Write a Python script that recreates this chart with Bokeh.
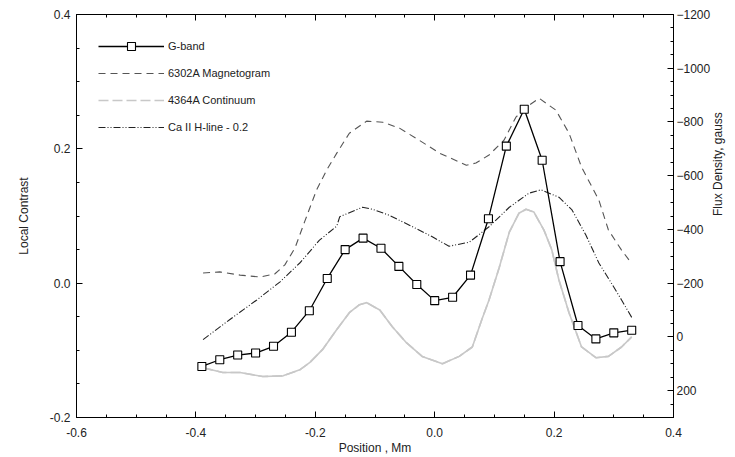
import math
from bokeh.plotting import figure
from bokeh.models import (Range1d, LinearAxis, FixedTicker, NumeralTickFormatter,
                          Legend, LegendItem)
from bokeh.embed import file_html
from bokeh.resources import INLINE

# ---- data ----
gband_x = [-0.39, -0.36, -0.33, -0.30, -0.27, -0.24, -0.21, -0.18, -0.15, -0.12,
           -0.09, -0.06, -0.03, 0.00, 0.03, 0.06, 0.09, 0.12, 0.15, 0.18,
           0.21, 0.24, 0.27, 0.30, 0.33]
gband_y = [-0.124, -0.114, -0.107, -0.104, -0.094, -0.073, -0.041, 0.007, 0.050, 0.067,
           0.052, 0.025, -0.002, -0.026, -0.021, 0.012, 0.096, 0.204, 0.259, 0.183,
           0.032, -0.063, -0.083, -0.074, -0.070]

mag_x = [-0.388, -0.360, -0.326, -0.293, -0.268, -0.251, -0.234, -0.218, -0.198, -0.181,
         -0.164, -0.143, -0.114, -0.087, -0.059, -0.026, 0.008, 0.053, 0.069, 0.091,
         0.116, 0.136, 0.158, 0.175, 0.203, 0.225, 0.246, 0.275, 0.291, 0.313, 0.328]
mag_gauss = [-238, -242, -230, -223, -234, -268, -331, -428, -546, -621,
             -684, -758, -803, -799, -777, -732, -684, -639, -647, -677,
             -732, -818, -862, -888, -844, -758, -632, -509, -398, -323, -279]

cont_x = [-0.388, -0.355, -0.326, -0.288, -0.254, -0.226, -0.209, -0.188, -0.164, -0.143,
          -0.126, -0.114, -0.092, -0.071, -0.047, -0.021, 0.013, 0.041, 0.063, 0.079,
          0.091, 0.108, 0.125, 0.141, 0.153, 0.166, 0.183, 0.196, 0.208, 0.225,
          0.246, 0.270, 0.291, 0.313, 0.330]
cont_y = [-0.126, -0.133, -0.133, -0.139, -0.138, -0.129, -0.118, -0.099, -0.069, -0.044,
          -0.032, -0.029, -0.040, -0.065, -0.089, -0.109, -0.120, -0.109, -0.095, -0.054,
          -0.025, 0.023, 0.076, 0.104, 0.110, 0.106, 0.079, 0.050, 0.005, -0.044,
          -0.095, -0.111, -0.109, -0.095, -0.080]

ca_x = [-0.388, -0.343, -0.298, -0.259, -0.226, -0.193, -0.164, -0.159, -0.121, -0.104,
        -0.076, -0.037, -0.004, 0.024, 0.058, 0.091, 0.125, 0.158, 0.178, 0.208,
        0.230, 0.253, 0.275, 0.296, 0.313, 0.330]
ca_y = [-0.084, -0.054, -0.025, 0.002, 0.030, 0.064, 0.085, 0.099, 0.113, 0.110,
        0.101, 0.084, 0.069, 0.055, 0.061, 0.084, 0.113, 0.134, 0.139, 0.128,
        0.109, 0.072, 0.030, 0.000, -0.025, -0.051]

x_ticks = [-0.6, -0.4, -0.2, 0.0, 0.2, 0.4]
y_ticks = [-0.2, 0.0, 0.2, 0.4]
flux_ticks = [-1200, -1000, -800, -600, -400, -200, 0, 200]

labels = ["G-band", "6302A Magnetogram", "4364A Continuum", "Ca II H-line - 0.2"]
x_title = "Position , Mm"
y_title = "Local Contrast"
flux_title = "Flux Density, gauss"

FONT = "Liberation Sans"
TXT = "#222222"

p = figure(width=735, height=457, output_backend="svg", toolbar_location=None,
           x_range=Range1d(-0.6, 0.4), y_range=Range1d(-0.2, 0.4),
           x_axis_location=None, y_axis_location=None,
           min_border_left=76, min_border_right=60, min_border_top=14,
           min_border_bottom=39)
p.grid.visible = False
p.outline_line_color = "black"
p.outline_line_width = 1
p.background_fill_color = "white"
p.border_fill_color = "white"
p.extra_y_ranges = {"flux": Range1d(300, -1200)}

def minor_list(start, stop, step, majors):
    out = []
    v = start
    while v <= stop + 1e-9:
        if all(abs(v - m) > 1e-9 for m in majors):
            out.append(round(v, 6))
        v += step
    return out

def style(ax):
    ax.major_tick_in = 6
    ax.major_tick_out = 0
    ax.minor_tick_in = 3
    ax.minor_tick_out = 0
    ax.axis_line_color = "black"
    ax.major_tick_line_color = "black"
    ax.minor_tick_line_color = "black"
    ax.major_label_text_font = FONT
    ax.major_label_text_font_size = "12px"
    ax.major_label_text_color = TXT
    ax.axis_label_text_font = FONT
    ax.axis_label_text_font_size = "12px"
    ax.axis_label_text_font_style = "normal"
    ax.axis_label_text_color = TXT

xt = FixedTicker(ticks=x_ticks, minor_ticks=minor_list(-0.6, 0.4, 0.05, x_ticks))
yt = FixedTicker(ticks=y_ticks, minor_ticks=minor_list(-0.2, 0.4, 0.05, y_ticks))
ft = FixedTicker(ticks=flux_ticks, minor_ticks=minor_list(-1200, 300, 50, flux_ticks))

xb = LinearAxis(ticker=xt, formatter=NumeralTickFormatter(format="0.0"),
                axis_label=x_title)
style(xb)
xb.major_label_standoff = 10
xb.axis_label_standoff = 1
p.add_layout(xb, "below")

xa = LinearAxis(ticker=xt)
style(xa)
xa.major_label_text_color = None
xa.major_label_text_font_size = "2px"
xa.major_label_standoff = 0
p.add_layout(xa, "above")

yl = LinearAxis(ticker=yt, formatter=NumeralTickFormatter(format="0.0"),
                axis_label=y_title)
style(yl)
yl.major_label_standoff = 6
yl.axis_label_standoff = 16
p.add_layout(yl, "left")

yr = LinearAxis(ticker=ft, y_range_name="flux", axis_label=flux_title)
style(yr)
yr.major_label_standoff = 3
yr.axis_label_standoff = 5
yr.axis_label_orientation = math.pi / 2   # read bottom to top, like the left title
p.add_layout(yr, "right")

# ---- series ----
# dashed copy underneath (serves as the legend key), solid line drawn on top of it
r_cont_key = p.line(cont_x, cont_y, line_color="#c8c8c8", line_width=1.6,
                    line_dash="10 4")
r_cont = p.line(cont_x, cont_y, line_color="#c8c8c8", line_width=1.6)
r_mag = p.line(mag_x, mag_gauss, y_range_name="flux", line_color="#555555",
               line_width=1.1, line_dash="7 5")
r_ca = p.line(ca_x, ca_y, line_color="#222222", line_width=1.1,
              line_dash="7 2 1 2 1 2")
r_g = p.line(gband_x, gband_y, line_color="black", line_width=1.3)
r_gs = p.scatter(gband_x, gband_y, marker="square", size=8, line_color="black",
                 fill_color="white", line_width=1.1)

legend = Legend(items=[
    LegendItem(label=labels[0], renderers=[r_g, r_gs]),
    LegendItem(label=labels[1], renderers=[r_mag]),
    LegendItem(label=labels[2], renderers=[r_cont_key]),
    LegendItem(label=labels[3], renderers=[r_ca]),
], location=(22, 280))
legend.border_line_color = None
legend.background_fill_alpha = 0
legend.padding = 0
legend.margin = 0
legend.spacing = 7
legend.label_height = 20
legend.glyph_height = 20
legend.glyph_width = 66
legend.label_standoff = 4
legend.label_text_font = FONT
legend.label_text_font_size = "11px"
legend.label_text_color = TXT
p.add_layout(legend, "center")

open("out.html", "w").write(file_html(p, INLINE))
